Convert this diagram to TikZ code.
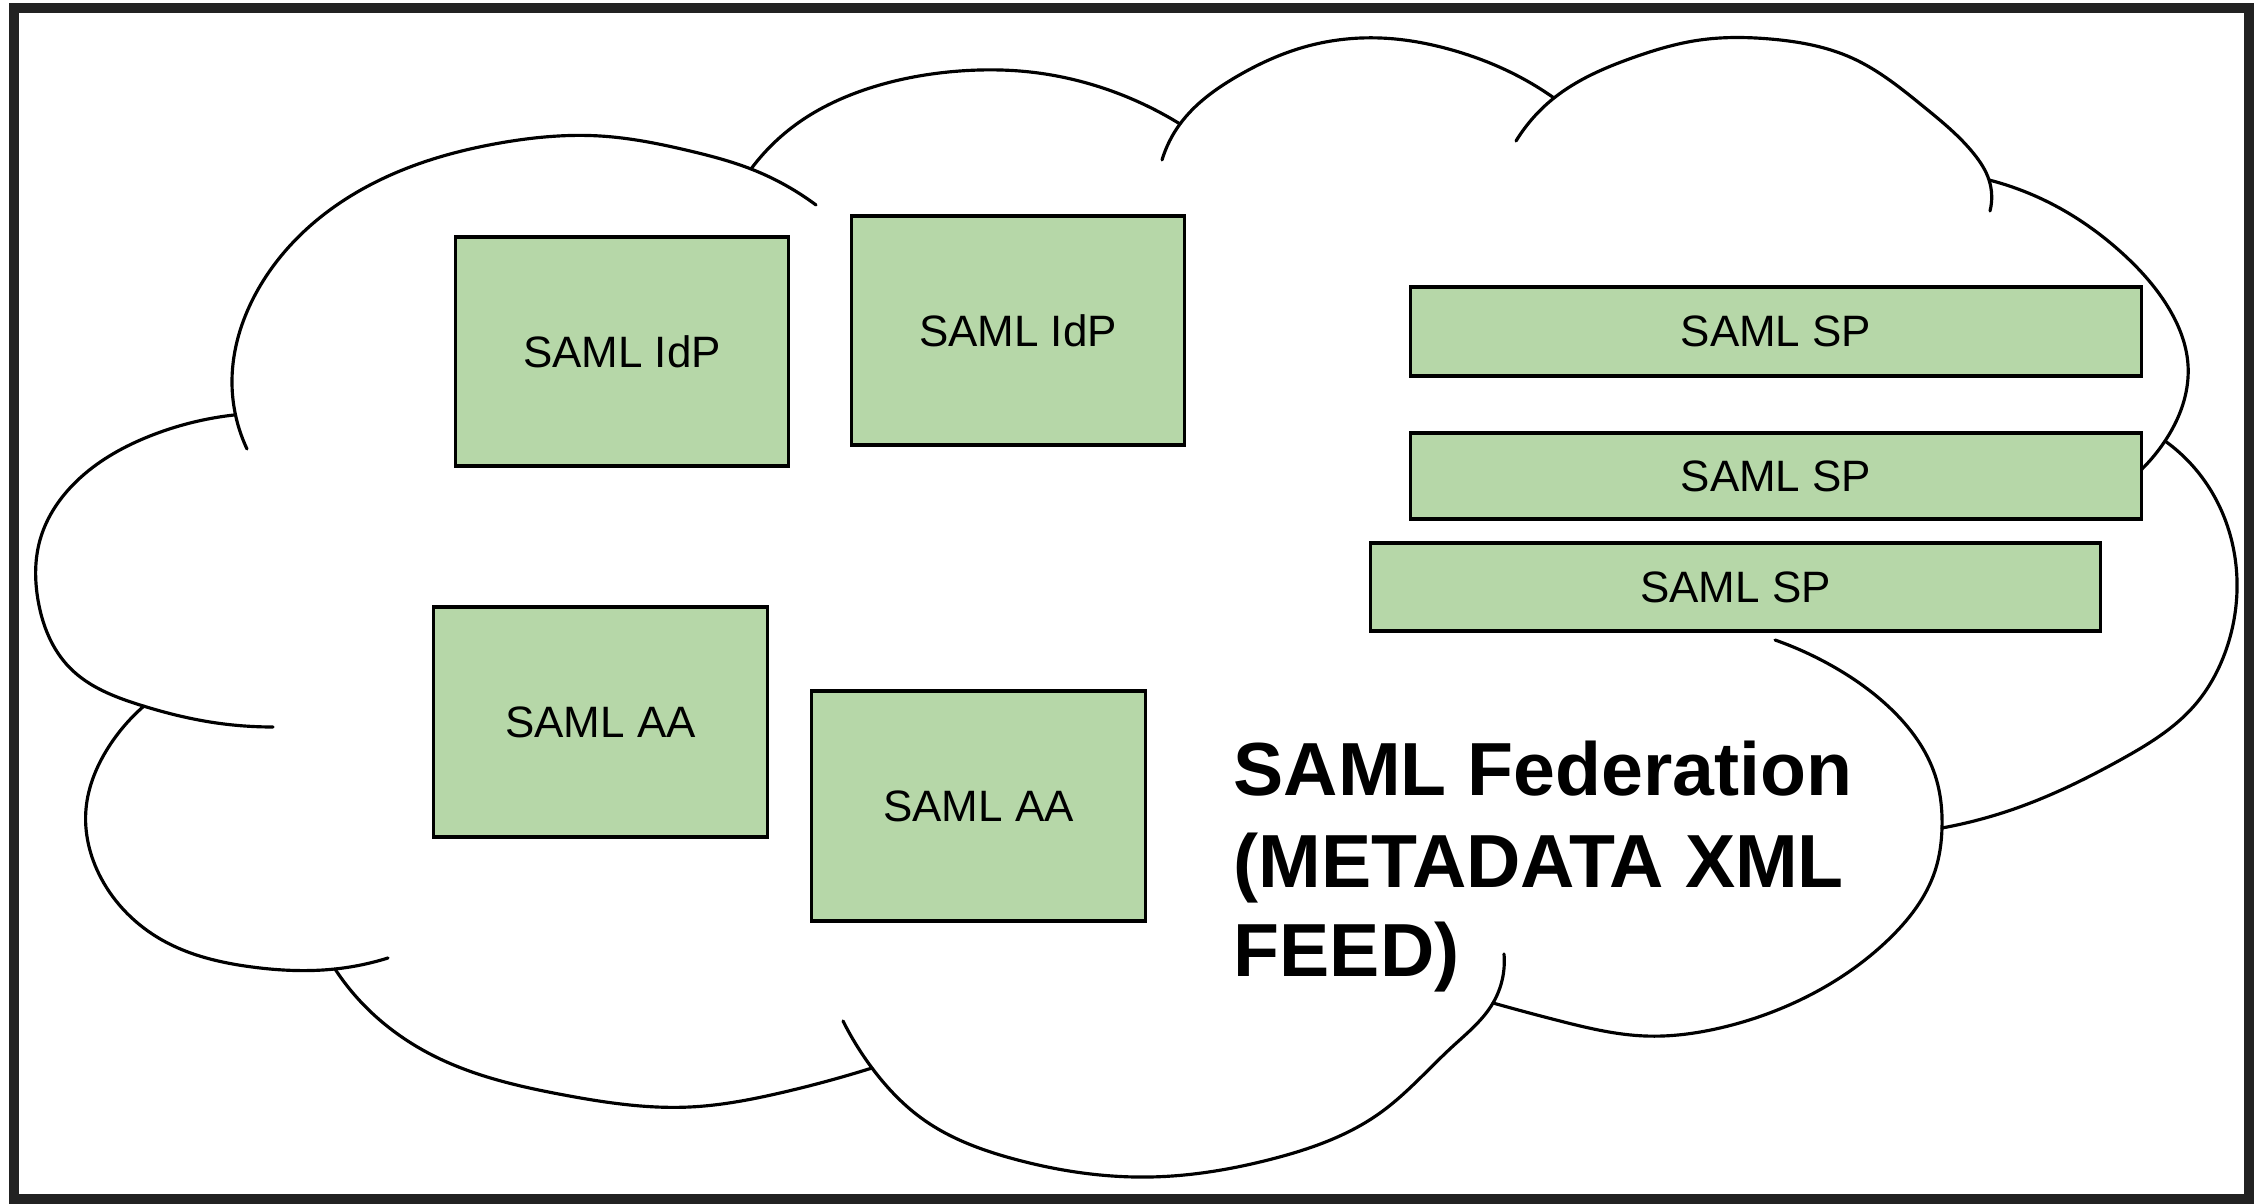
\documentclass[tikz,border=0pt]{standalone}
\usepackage{fontspec}
\setmainfont{Liberation Sans}
\usetikzlibrary{hobby}
\definecolor{samlgreen}{HTML}{B6D7A8}
\definecolor{framegray}{HTML}{222222}
\begin{document}
\begin{tikzpicture}[x=0.01cm,y=-0.01cm,
  box/.style={draw=black, line width=0.9pt, fill=samlgreen, inner sep=0pt,
    font=\fontsize{12.5}{15}\selectfont},
  cloudline/.style={line width=0.9pt, line cap=round, line join=round, use Hobby shortcut},
  fedtext/.style={anchor=base west, inner sep=0pt,
    font=\fontsize{21.4}{25.7}\selectfont\bfseries}]
\useasboundingbox (0,0) rectangle (2254,1204);
\fill[white] (0,0) rectangle (2254,1204);
\draw[framegray, line width=0.1cm] (14,8) rectangle (2249,1199);

% cloud lobes
\draw[cloudline] (247,449) .. (232,380) .. (255,295) .. (310,226) .. (400,171) .. (500,143) .. (600,136) .. (690,151) .. (751,169) .. (816,205);
\draw[cloudline] (234,415) .. (150,436) .. (80,478) .. (40,540) .. (38,600) .. (70,668) .. (140,705) .. (210,722) .. (273,727);
\draw[cloudline] (144,706) .. (108,748) .. (86,809) .. (101,878) .. (162,940) .. (252,967) .. (335,969) .. (388,958);
\draw[cloudline] (335,969) .. (360,1001) .. (432,1055) .. (564,1095) .. (690,1107) .. (780,1093) .. (872,1068);
\draw[cloudline] (843,1021) .. (872,1068) .. (924,1120) .. (1014,1159) .. (1150,1177) .. (1272,1159) .. (1380,1113) .. (1452,1047) .. (1493,1003) .. (1504,954);
\draw[cloudline] (1493,1003) .. (1560,1021) .. (1645,1036) .. (1720,1028) .. (1798,1001) .. (1888,940) .. (1935,871) .. (1942,828) .. (1935,775) .. (1891,709) .. (1834,667) .. (1775,640);
\draw[cloudline] (2165,441) .. (2201,476) .. (2226,522) .. (2237,590) .. (2226,650) .. (2194,706) .. (2122,759) .. (2014,809) .. (1942,828);
\draw[cloudline] (1989,180) .. (2050,203) .. (2122,253) .. (2168,307) .. (2188,365) .. (2179,415) .. (2165,441) .. (2141,470);
\draw[cloudline] (1516,141) .. (1554,98) .. (1632,58) .. (1700,40) .. (1770,39) .. (1852,58) .. (1924,107) .. (1974,154) .. (1989,180) .. (1990,211);
\draw[cloudline] (1162,160) .. (1180,124) .. (1236,77) .. (1308,46) .. (1380,38) .. (1452,50) .. (1516,75) .. (1554,98);
\draw[cloudline] (751,169) .. (798,123) .. (870,88) .. (960,71) .. (1030,72) .. (1090,84) .. (1180,124);

% boxes
\node[box, minimum width=3.32cm, minimum height=2.29cm] (idp1) at (622,351.5) {SAML IdP};
\node[box, minimum width=3.32cm, minimum height=2.29cm] (idp2) at (1018,330.5) {SAML IdP};
\node[box, minimum width=7.30cm, minimum height=0.89cm] (sp1) at (1776,331.5) {SAML SP};
\node[box, minimum width=7.30cm, minimum height=0.86cm] (sp2) at (1776,476) {SAML SP};
\node[box, minimum width=7.29cm, minimum height=0.88cm] (sp3) at (1735.5,587) {SAML SP};
\node[box, minimum width=3.33cm, minimum height=2.30cm] (aa1) at (600.5,722) {SAML AA};
\node[box, minimum width=3.33cm, minimum height=2.30cm] (aa2) at (978.5,806) {SAML AA};

% federation label
\node[fedtext] (fed1) at (1233,796) {SAML Federation};
\node[fedtext] (fed2) at (1233,888) {(METADATA XML};
\node[fedtext] (fed3) at (1233,977) {FEED)};
\end{tikzpicture}
\end{document}
